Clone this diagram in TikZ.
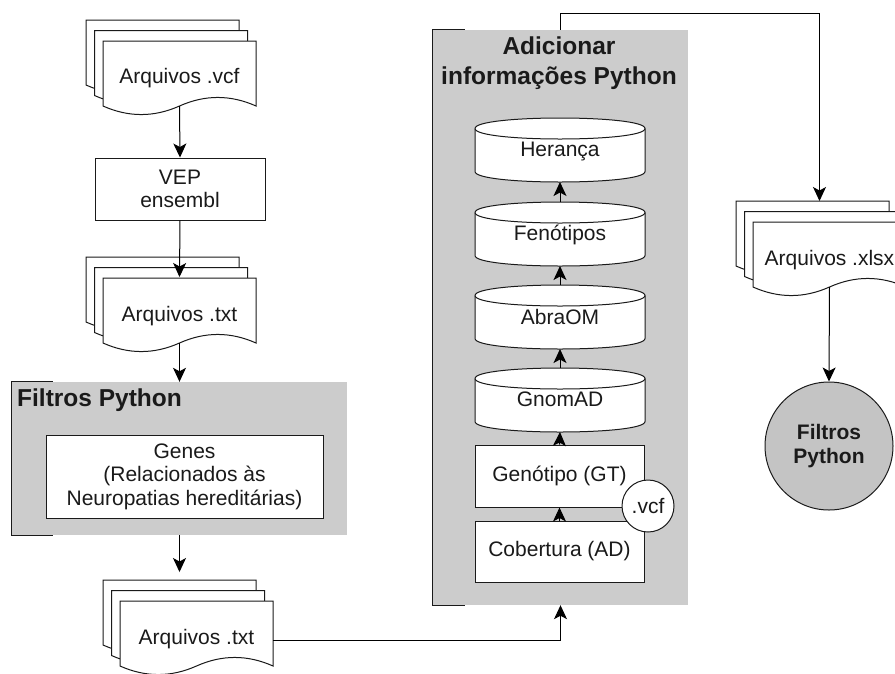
\documentclass[tikz,border=0pt]{standalone}
\usepackage{fontspec}
\setmainfont{Liberation Sans}
\usetikzlibrary{arrows.meta}
\definecolor{panelgray}{HTML}{CCCCCC}
\definecolor{circgray}{HTML}{C4C4C4}
\definecolor{inkgray}{HTML}{1A1A1A}
\newcommand{\txtsz}{\fontsize{21}{23.5}\selectfont}
\newcommand{\ttlsz}{\fontsize{24.5}{30.5}\selectfont\bfseries}
\newcommand{\circsz}{\fontsize{21}{23.5}\selectfont\bfseries}
% one document page: x, top
\newcommand{\docpage}[2]{%
  \begin{scope}[shift={(#1,#2)}]
    \filldraw[shapeline, fill=white] (0,0) -- (153,0) -- (153,65)
      .. controls (127.5,53.6) and (102,53.6) .. (76.5,65)
      .. controls (51,76.4) and (25.5,76.4) .. (0,65) -- cycle;
  \end{scope}}
% stack of three pages: x, top of back page
\newcommand{\docstack}[2]{%
  \docpage{#1}{#2}%
  \docpage{#1+8.5}{#2+10.5}%
  \docpage{#1+17}{#2+21}}
% cylinder: top
\newcommand{\cylshape}[1]{%
  \begin{scope}[shift={(475,#1)}]
    \filldraw[shapeline, fill=white] (0,10.5) -- (0,53.5)
      .. controls (0,67.5) and (170,67.5) .. (170,53.5) -- (170,10.5)
      .. controls (170,-3.5) and (0,-3.5) .. cycle;
    \draw[shapeline] (0,10.5) .. controls (0,24.5) and (170,24.5) .. (170,10.5);
  \end{scope}}
\begin{document}
\begin{tikzpicture}[x=1pt,y=-1pt,
  shapeline/.style={draw=inkgray, line width=1pt},
  conn/.style={draw=black, line width=1pt, -{Stealth[length=14pt,width=13pt,inset=3.5pt]}},
  bracketline/.style={draw=inkgray, line width=1pt},
  box/.style={shapeline, fill=white, rectangle, inner sep=2pt, align=center, font=\txtsz, text=inkgray},
  lbl/.style={align=center, font=\txtsz, inner sep=0pt, text=inkgray},
  panel/.style={fill=panelgray, draw=none, rectangle, inner sep=0pt},
  ttl/.style={font=\ttlsz, align=center, inner sep=0pt, text=inkgray}]
\useasboundingbox (0,0) rectangle (895,673);

% ---------- panels ----------
\node[panel, minimum width=335pt, minimum height=153pt] (filtros) at (179.5,458.5) {};
\draw[bracketline] ([xshift=41pt]filtros.north west) -- (filtros.north west) -- (filtros.south west) -- ([xshift=41pt]filtros.south west);
\node[ttl, anchor=west] (filtrosttl) at (17,400) {Filtros Python};

\node[panel, minimum width=255pt, minimum height=575pt] (adic) at (560.5,317.5) {};
\draw[bracketline] ([xshift=32pt]adic.north west) -- (adic.north west) -- (adic.south west) -- ([xshift=32pt]adic.south west);
\node[ttl] (adicttl) at (559,63) {Adicionar\\informações Python};

% ---------- left column ----------
\docstack{86}{20}
\node[lbl] (vcf) at (179.5,78) {Arquivos .vcf};
\coordinate (vcfB) at (179.5,106);

\node[box, minimum width=170pt, minimum height=62pt] (vep) at (180,189) {VEP\\ensembl};

\docstack{86}{257}
\node[lbl] (txta) at (179.5,316) {Arquivos .txt};
\coordinate (txtaT) at (179.5,277);
\coordinate (txtaB) at (179.5,343);

\node[box, minimum width=277pt, minimum height=83pt] (genes) at (184.5,476.5) {Genes\\(Relacionados às\\Neuropatias hereditárias)};

\docstack{103}{580}
\node[lbl] (txtb) at (196.5,639) {Arquivos .txt};
\coordinate (txtbT) at (179.5,572);
\coordinate (txtbR) at (273,640);

% ---------- middle column ----------
\cylshape{118}
\node[lbl] (her) at (560,151) {Herança};
\coordinate (herB) at (560,182);
\cylshape{202}
\node[lbl] (fen) at (560,235) {Fenótipos};
\coordinate (fenT) at (560,202);
\coordinate (fenB) at (560,266);
\cylshape{285}
\node[lbl] (abr) at (560,317) {AbraOM};
\coordinate (abrT) at (560,285);
\coordinate (abrB) at (560,349);
\cylshape{368}
\node[lbl] (gno) at (560,399) {GnomAD};
\coordinate (gnoT) at (560,368);
\coordinate (gnoB) at (560,432);

\node[box, minimum width=169pt, minimum height=62pt] (gen) at (559.5,476) {Genótipo (GT)};
\node[box, minimum width=169pt, minimum height=61pt] (cob) at (559.5,551.5) {Cobertura (AD)};
\node[shapeline, fill=white, circle, minimum size=52pt, inner sep=0pt, font=\txtsz, text=inkgray] (vcfc) at (648,506) {.vcf};

% ---------- right column ----------
\docstack{736}{201}
\node[lbl] (xlsx) at (829.5,260) {Arquivos .xlsx};
\coordinate (xlsxT) at (819.5,201);
\coordinate (xlsxB) at (829.5,287);
\node[shapeline, fill=circgray, circle, minimum size=128pt, inner sep=0pt, font=\circsz, align=center, text=inkgray] (fpy) at (829,446) {Filtros\\Python};

% ---------- connectors ----------
\draw[conn] (vcfB) -- (vep.north);
\draw[conn] (vep.south) -- (txtaT);
\draw[conn] (txtaB) -- (filtros.north);
\draw[conn] (filtros.south) -- (txtbT);
\draw[conn] (txtbR) -| (adic.south);
\coordinate (topturn) at (560.5,13);
\draw[conn] (adic.north) -- (topturn) -| (xlsxT);
\draw[conn] (xlsxB) -- (fpy.north);

\draw[conn] (cob.north) -- (gen.south);
\draw[conn] (gen.north) -- (gnoB);
\draw[conn] (gnoT) -- (abrB);
\draw[conn] (abrT) -- (fenB);
\draw[conn] (fenT) -- (herB);
\end{tikzpicture}
\end{document}
